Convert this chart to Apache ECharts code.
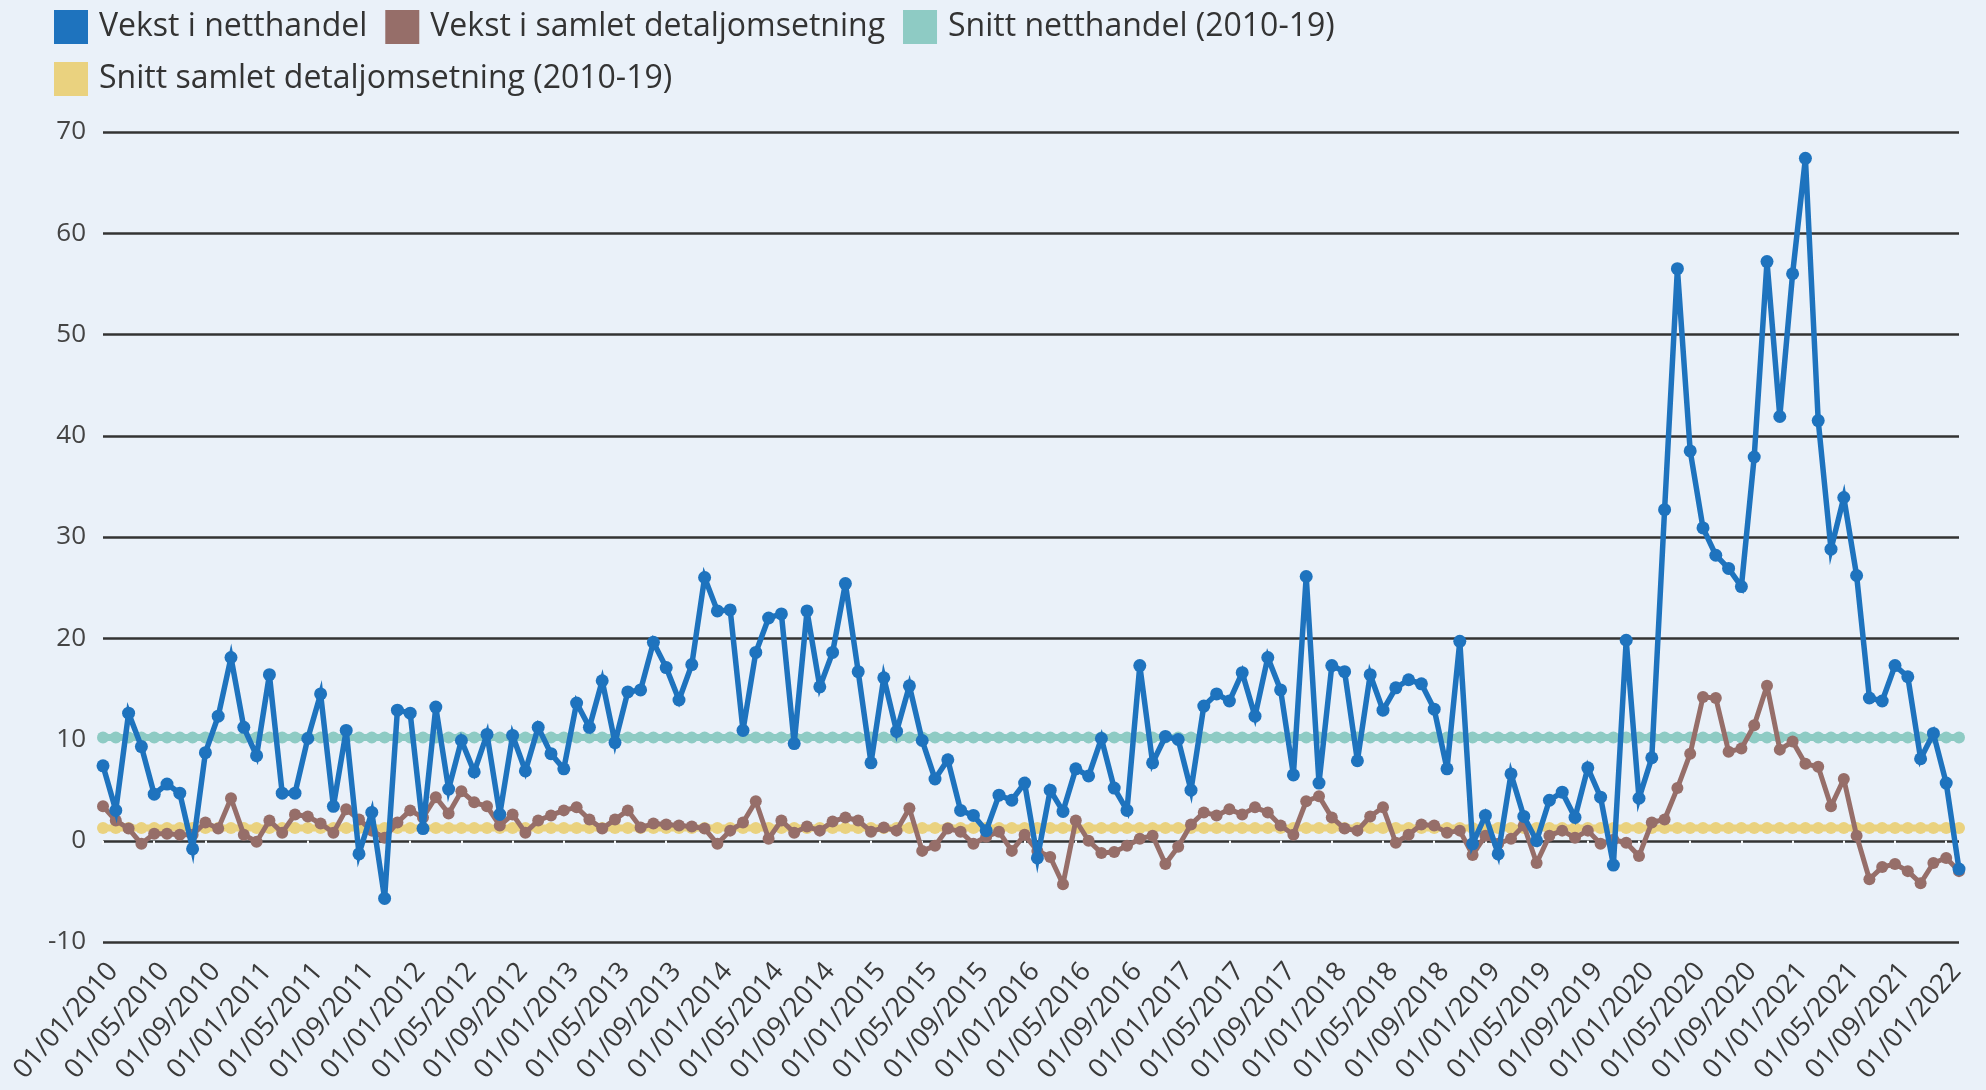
<!DOCTYPE html>
<html>
<head>
<meta charset="utf-8">
<script src="https://cdn.jsdelivr.net/npm/echarts@6/dist/echarts.min.js"></script>
<style>
  html, body { margin: 0; padding: 0; background: #eaf1f9; }
  #chart { width: 1986px; height: 1090px; }
</style>
</head>
<body>
<div id="chart"></div>
<script>
// monthly labels 01/01/2010 .. 01/02/2022
const startYear = 2010
const monthCount = 146
const categories = []
for (let i = 0; i < monthCount; i++) {
  const y = startYear + Math.floor(i / 12)
  const m = (i % 12) + 1
  categories.push('01/' + String(m).padStart(2, '0') + '/' + y)
}

const seriesNames = [
  'Vekst i netthandel',
  'Vekst i samlet detaljomsetning',
  'Snitt netthandel (2010-19)',
  'Snitt samlet detaljomsetning (2010-19)',
]

// vekst i netthandel, %
const netthandel = [
  7.4, 3.0, 12.6, 9.3, 4.6, 5.6, 4.7, -0.8, 8.7, 12.3, 18.1, 11.2,
  8.4, 16.4, 4.7, 4.7, 10.1, 14.5, 3.4, 10.9, -1.3, 2.8, -5.7, 12.9,
  12.6, 1.2, 13.2, 5.1, 9.9, 6.8, 10.5, 2.6, 10.4, 6.9, 11.2, 8.6,
  7.1, 13.6, 11.2, 15.8, 9.7, 14.7, 14.9, 19.6, 17.1, 13.9, 17.4, 26.0,
  22.7, 22.8, 10.9, 18.6, 22.0, 22.4, 9.6, 22.7, 15.2, 18.6, 25.4, 16.7,
  7.7, 16.1, 10.8, 15.3, 9.9, 6.1, 8.0, 3.0, 2.5, 1.0, 4.5, 4.0,
  5.7, -1.7, 5.0, 2.9, 7.1, 6.4, 10.1, 5.2, 3.0, 17.3, 7.7, 10.3,
  10.0, 5.0, 13.3, 14.5, 13.8, 16.6, 12.3, 18.1, 14.9, 6.5, 26.1, 5.7,
  17.3, 16.7, 7.9, 16.4, 12.9, 15.1, 15.9, 15.5, 13.0, 7.1, 19.7, -0.3,
  2.5, -1.3, 6.6, 2.4, 0.0, 4.0, 4.8, 2.3, 7.2, 4.3, -2.4, 19.8,
  4.2, 8.2, 32.7, 56.5, 38.5, 30.9, 28.2, 26.9, 25.1, 37.9, 57.2, 41.9,
  56.0, 67.4, 41.5, 28.8, 33.9, 26.2, 14.1, 13.8, 17.3, 16.2, 8.1, 10.6,
  5.7, -2.8,
]

// vekst i samlet detaljomsetning, %
const samlet = [
  3.4, 2.0, 1.2, -0.3, 0.7, 0.7, 0.6, 0.6, 1.8, 1.2, 4.2, 0.6,
  -0.1, 2.0, 0.8, 2.6, 2.4, 1.7, 0.8, 3.1, 2.1, 1.0, 0.3, 1.8,
  3.0, 2.3, 4.3, 2.7, 4.9, 3.8, 3.4, 1.5, 2.6, 0.8, 2.0, 2.5,
  3.0, 3.3, 2.1, 1.2, 2.1, 3.0, 1.3, 1.7, 1.6, 1.5, 1.4, 1.2,
  -0.3, 1.0, 1.8, 3.9, 0.2, 2.0, 0.8, 1.4, 1.0, 1.9, 2.3, 2.0,
  0.9, 1.3, 1.0, 3.2, -1.0, -0.5, 1.2, 0.9, -0.3, 0.4, 0.9, -1.0,
  0.6, -1.0, -1.6, -4.3, 2.0, 0.0, -1.2, -1.1, -0.5, 0.2, 0.5, -2.3,
  -0.6, 1.6, 2.8, 2.5, 3.1, 2.6, 3.3, 2.8, 1.5, 0.6, 3.9, 4.4,
  2.3, 1.2, 1.0, 2.4, 3.3, -0.2, 0.6, 1.6, 1.5, 0.8, 1.0, -1.4,
  0.5, -0.3, 0.2, 1.5, -2.2, 0.5, 1.0, 0.3, 1.0, -0.3, 0.1, -0.2,
  -1.5, 1.8, 2.1, 5.2, 8.6, 14.2, 14.1, 8.8, 9.1, 11.4, 15.3, 9.0,
  9.8, 7.6, 7.3, 3.4, 6.1, 0.5, -3.8, -2.6, -2.3, -3.0, -4.2, -2.2,
  -1.7, -3.0,
]

// 2010-19 averages
const snittNetthandel = 10.2
const snittSamlet = 1.25

const yTicks = [-10, 0, 10, 20, 30, 40, 50, 60, 70]

const colors = ['#1e73be', '#966e69', '#8ecbc4', '#ead27f']
const fontFamily = '"Open Sans", "Noto Sans", sans-serif'

const chart = echarts.init(document.getElementById('chart'))

function lineSeries(name, data, color, opts) {
  return Object.assign({
    name,
    type: 'line',
    data,
    symbol: 'circle',
    symbolSize: 12,
    showSymbol: true,
    showAllSymbol: true,
    itemStyle: { color },
  }, opts)
}

chart.setOption({
  animation: false,
  backgroundColor: '#eaf1f9',
  color: colors,
  legend: {
    data: seriesNames,
    left: 49,
    top: 5,
    width: 1400,
    icon: 'rect',
    itemWidth: 34,
    itemHeight: 34,
    itemGap: 18,
    textStyle: {
      fontFamily,
      fontSize: 32,
      color: '#333',
      padding: [0, 0, 0, 6],
    },
  },
  grid: {
    left: 103,
    right: 27,
    top: 132,
    bottom: 148,
  },
  xAxis: {
    type: 'category',
    data: categories,
    boundaryGap: false,
    axisLine: { show: false },
    axisTick: {
      show: true,
      interval: 3,
      length: 4,
      lineStyle: { color: '#f6f9fc', width: 2 },
    },
    axisLabel: {
      interval: 3,
      rotate: 49,
      margin: 16,
      verticalAlign: 'top',
      fontFamily,
      fontSize: 27,
      color: '#3a3a3a',
    },
    splitLine: { show: false },
  },
  yAxis: {
    type: 'value',
    min: yTicks[0],
    max: yTicks[yTicks.length - 1],
    interval: 10,
    axisLine: { show: false },
    axisTick: { show: false },
    axisLabel: {
      margin: 17,
      fontFamily,
      fontSize: 26,
      color: '#444',
    },
    splitLine: { lineStyle: { color: '#333', width: 2.5 } },
  },
  series: [
    lineSeries(seriesNames[0], netthandel, colors[0], {
      z: 4,
      symbolSize: 13,
      lineStyle: { width: 5.5, color: colors[0], join: 'miter', miterLimit: 6 },
    }),
    lineSeries(seriesNames[1], samlet, colors[1], {
      z: 3,
      lineStyle: { width: 5, color: colors[1] },
    }),
    lineSeries(seriesNames[2], categories.map(() => snittNetthandel), colors[2], {
      z: 1,
      silent: true,
      lineStyle: { width: 7, color: colors[2] },
    }),
    lineSeries(seriesNames[3], categories.map(() => snittSamlet), colors[3], {
      z: 1,
      silent: true,
      lineStyle: { width: 7, color: colors[3] },
    }),
  ],
})
</script>
</body>
</html>
